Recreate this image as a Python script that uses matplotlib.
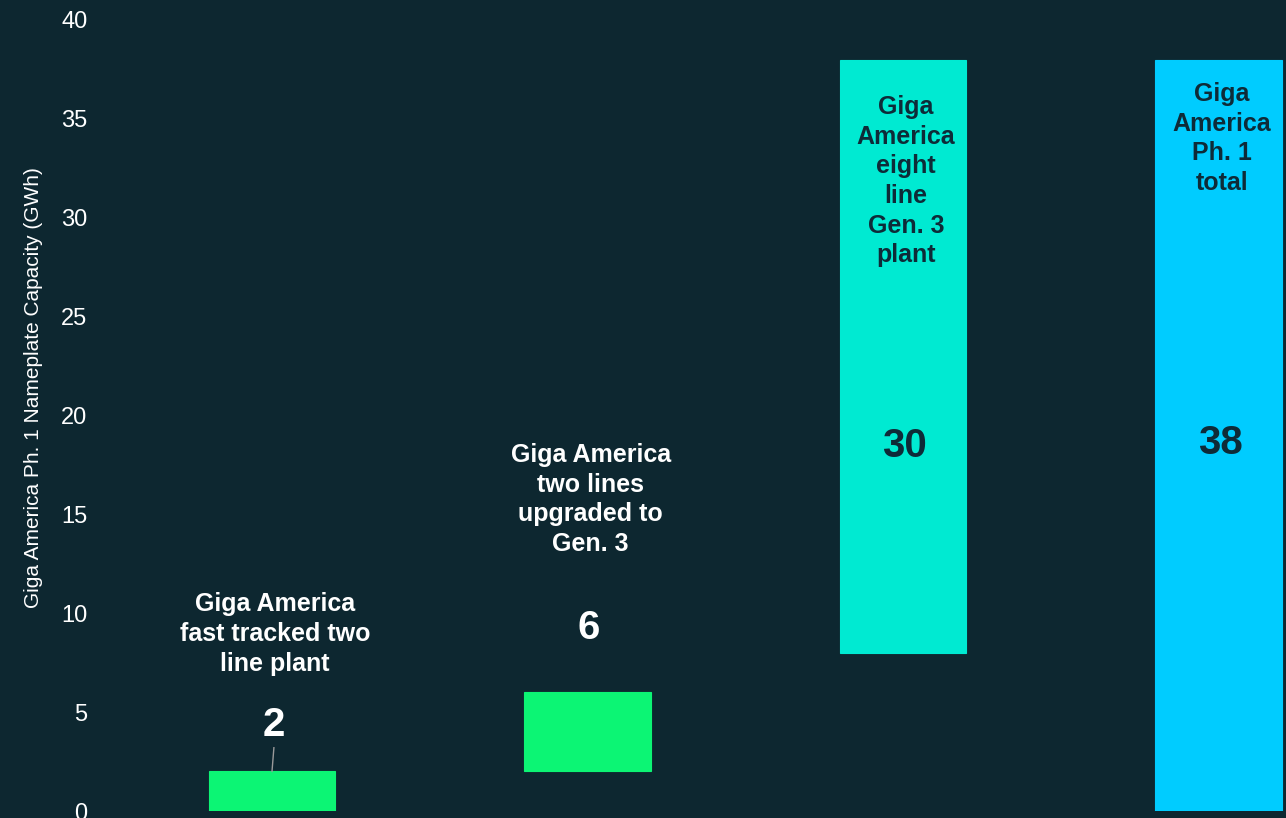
import matplotlib
matplotlib.use("Agg")
import matplotlib.pyplot as plt
import numpy as np

# ---- data ----
categories = [
    "Giga America\nfast tracked two\nline plant",
    "Giga America\ntwo lines\nupgraded to\nGen. 3",
    "Giga\nAmerica\neight\nline\nGen. 3\nplant",
    "Giga\nAmerica\nPh. 1\ntotal",
]
bottoms = [0, 2, 8, 0]
tops = [2, 6, 38, 38]
value_labels = ["2", "6", "30", "38"]
yticks = [0, 5, 10, 15, 20, 25, 30, 35, 40]

# ---- style ----
BG = "#0d2730"
colors = ["#0cf574", "#0cf574", "#00ead2", "#00ccff"]
dark_text = "#0e2b38"
plt.rcParams['font.family'] = ['Liberation Sans', 'DejaVu Sans']

fig = plt.figure(figsize=(12.86, 8.18), dpi=100, facecolor=BG)
ax = fig.add_axes([100 / 1286, 1 - 811 / 818, 1 - 100 / 1286, (811 - 20) / 818])
ax.set_facecolor(BG)

x = np.arange(len(categories))
heights = [t - b for t, b in zip(tops, bottoms)]
ax.bar(x, heights, bottom=bottoms, width=0.4, color=colors, edgecolor=colors,
       linewidth=0.8)

ax.set_ylim(0, 40)
ax.set_xlim((100 - 272) / 315.5, (1286 - 272) / 315.5)
ax.set_yticks(yticks)
ax.set_yticklabels([str(v) for v in yticks], color="white", fontsize=17)
ax.tick_params(axis='y', length=0, pad=9)
ax.set_xticks([])
for s in ax.spines.values():
    s.set_visible(False)

# label layout (data coords)
label_y = [8.95, 15.75, 31.85, 34.0]
value_y = [4.35, 9.25, 18.45, 18.6]
label_col = ["white", "white", dark_text, dark_text]
for i in range(len(categories)):
    ax.text(x[i] + 0.01, label_y[i], categories[i], ha='center', va='center',
            fontsize=18, fontweight='bold', color=label_col[i], linespacing=1.3)
    ax.text(x[i] + 0.005, value_y[i], value_labels[i], ha='center', va='center',
            fontsize=29, fontweight='bold', color=label_col[i])

# leader line for first bar
ax.plot([x[0] + 0.006, x[0]], [3.2, tops[0]], color="#9a9a9a", lw=1)

fig.text(34 / 1286, 1 - 388 / 818, "Giga America Ph. 1 Nameplate Capacity (GWh)",
         rotation=90, ha='center', va='center', color="white", fontsize=15)

fig.savefig("out.png", dpi=100, facecolor=BG)
